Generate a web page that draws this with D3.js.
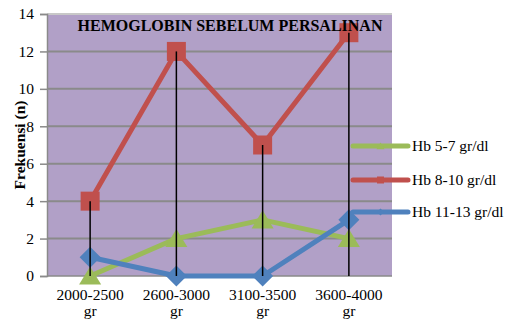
<!DOCTYPE html>
<html><head><meta charset="utf-8">
<script src="https://cdn.jsdelivr.net/npm/d3@7"></script>
<style>
html,body{margin:0;padding:0;background:#fff;}
svg{display:block;}
svg text{font-family:'Liberation Serif','Times New Roman',serif;}
</style></head>
<body><svg id="c" width="507" height="324"></svg>
<script>
const categories = ["2000-2500", "2600-3000", "3100-3500", "3600-4000"];
const unitLabel = "gr";
const seriesNames = ["Hb 5-7 gr/dl", "Hb 8-10 gr/dl", "Hb 11-13 gr/dl"];
const hb57 = [0, 2, 3, 2];
const hb810 = [4, 12, 7, 13];
const hb1113 = [1, 0, 0, 3];
const yTicks = [0, 2, 4, 6, 8, 10, 12, 14];
const title = "HEMOGLOBIN SEBELUM PERSALINAN";
const yTitle = "Frekuensi (n)";

const series = [
  {name: seriesNames[0], values: hb57, color: "#9BBB59", marker: "triangle"},
  {name: seriesNames[1], values: hb810, color: "#C0504D", marker: "square"},
  {name: seriesNames[2], values: hb1113, color: "#4F81BD", marker: "diamond"}
];

const svg = d3.select("#c");
const L = 47, R = 392, T = 14, B = 276;

const x = d3.scalePoint().domain(categories).range([L, R]).padding(0.5);
const y = d3.scaleLinear().domain([0, 14]).range([B, T]);

// plot background
svg.append("rect").attr("x", L).attr("y", T).attr("width", R - L).attr("height", B - T)
  .attr("fill", "#B1A0C7");

// gridlines
svg.append("g").selectAll("line").data(yTicks.slice(1)).join("line")
  .attr("x1", L).attr("x2", R).attr("y1", d => y(d)).attr("y2", d => y(d))
  .attr("stroke", d => d === 14 ? "#c8c8c8" : "#8a8a8a").attr("stroke-width", 2);

// y axis
const yAxis = svg.append("g").attr("transform", `translate(${L},0)`)
  .call(d3.axisLeft(y).tickValues(yTicks).tickSize(7).tickPadding(6));
yAxis.select(".domain").attr("stroke", "#8a8a8a").attr("stroke-width", 1.5);
yAxis.selectAll(".tick line").attr("stroke", "#8a8a8a").attr("stroke-width", 1.5);
yAxis.selectAll("text").attr("font-size", 15.5).attr("fill", "#000");

// x axis baseline
svg.append("line").attr("x1", L).attr("x2", R).attr("y1", B).attr("y2", B)
  .attr("stroke", "#8a8a8a").attr("stroke-width", 1.5);

// x labels
const xl = svg.append("g").selectAll("g").data(categories).join("g")
  .attr("transform", d => `translate(${x(d)},0)`);
xl.append("text").attr("y", 300).attr("text-anchor", "middle").attr("font-size", 15.5).text(d => d);
xl.append("text").attr("y", 316).attr("text-anchor", "middle").attr("font-size", 15.5).text(unitLabel);

// y axis title
svg.append("text").attr("transform", `translate(24.5,${(T + B) / 2}) rotate(-90)`)
  .attr("text-anchor", "middle").attr("font-size", 15.5).attr("font-weight", "bold").text(yTitle);

const line = d3.line().x((d, i) => x(categories[i])).y(d => y(d));

function markerPath(type, s) {
  if (type === "square") return `M${-s/2},${-s/2}h${s}v${s}h${-s}Z`;
  if (type === "diamond") return `M0,${-s/2}L${s/2},0L0,${s/2}L${-s/2},0Z`;
  return `M0,${-s*0.5}L${s*0.58},${s*0.45}L${-s*0.58},${s*0.45}Z`;
}
const markerSize = {square: 19, diamond: 21, triangle: 19};

series.forEach(s => {
  const g = svg.append("g");
  g.append("path").datum(s.values).attr("d", line).attr("fill", "none")
    .attr("stroke", s.color).attr("stroke-width", 5).attr("stroke-linejoin", "round");
  g.selectAll("path.m").data(s.values).join("path").attr("class", "m")
    .attr("transform", (d, i) => `translate(${x(categories[i])},${y(d)})`)
    .attr("d", markerPath(s.marker, markerSize[s.marker])).attr("fill", s.color);
});

// drop lines from the highest value at each category to the axis
svg.append("g").selectAll("line").data(categories).join("line")
  .attr("x1", d => x(d)).attr("x2", d => x(d))
  .attr("y1", (d, i) => y(d3.max(series, s => s.values[i]))).attr("y2", y(0))
  .attr("stroke", "#000").attr("stroke-width", 1.5);

// chart title, above the marks
svg.append("text").attr("x", 230).attr("y", 31).attr("text-anchor", "middle")
  .attr("font-size", 16).attr("font-weight", "bold").text(title);

// legend
const lg = svg.append("g").selectAll("g").data(series).join("g")
  .attr("transform", (d, i) => `translate(353,${[146, 180, 212][i]})`);
lg.append("line").attr("x1", 0).attr("x2", 55).attr("stroke", d => d.color).attr("stroke-width", 5)
  .attr("stroke-linecap", "round");
lg.append("path").attr("transform", "translate(27.5,0)")
  .attr("d", d => markerPath(d.marker, 7)).attr("fill", d => d.color);
lg.append("text").attr("x", 59).attr("y", 5).attr("font-size", 15.5).text(d => d.name);
</script></body></html>
